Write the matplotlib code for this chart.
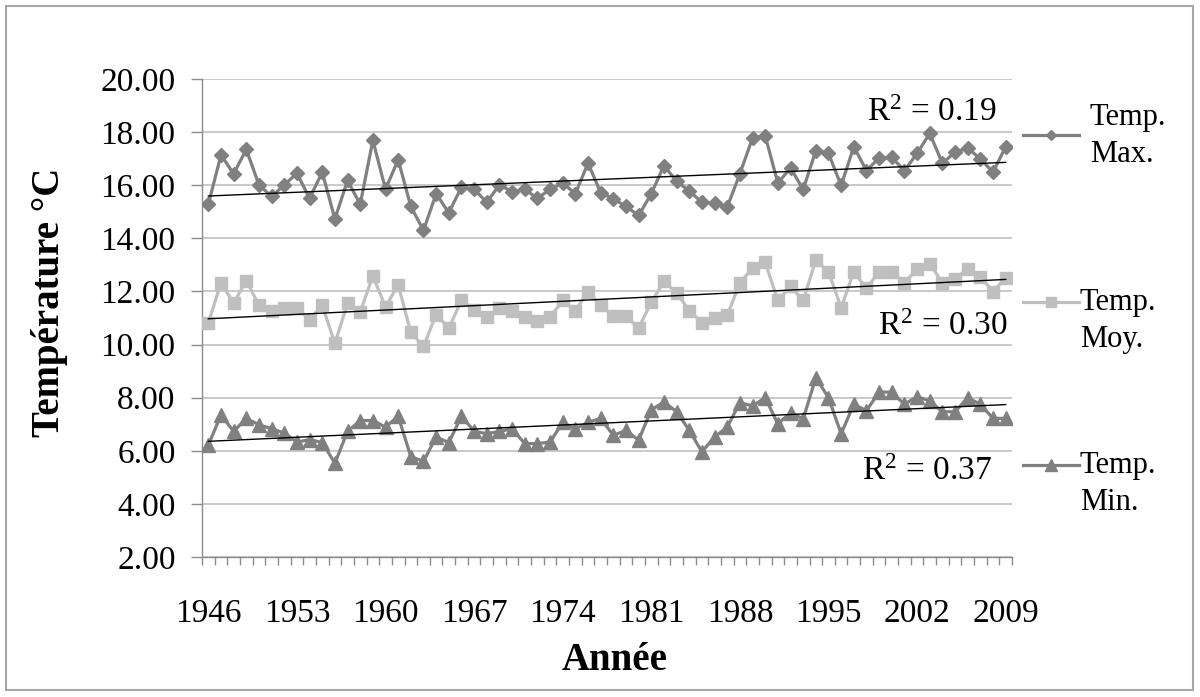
import numpy as np
import matplotlib
matplotlib.use("Agg")
import matplotlib.pyplot as plt
from matplotlib.lines import Line2D
from matplotlib.patches import Rectangle
from matplotlib.ticker import FixedLocator, FormatStrFormatter

years = list(range(1946, 2010))

temp_max = [15.28, 17.14, 16.43, 17.35, 16.01, 15.58, 16.01, 16.45, 15.51, 16.49,
            14.73, 16.18, 15.28, 17.69, 15.85, 16.96, 15.20, 14.30, 15.68, 14.96,
            15.93, 15.84, 15.36, 16.01, 15.76, 15.84, 15.51, 15.84, 16.08, 15.68,
            16.83, 15.72, 15.49, 15.20, 14.86, 15.68, 16.74, 16.15, 15.78, 15.36,
            15.33, 15.18, 16.43, 17.78, 17.86, 16.08, 16.65, 15.84, 17.30, 17.20,
            15.99, 17.45, 16.55, 17.03, 17.05, 16.55, 17.20, 17.95, 16.83, 17.24,
            17.40, 16.99, 16.49, 17.45]

temp_moy = [10.82, 12.32, 11.56, 12.41, 11.48, 11.26, 11.39, 11.39, 10.93, 11.48,
            10.04, 11.56, 11.23, 12.58, 11.42, 12.25, 10.46, 9.93, 11.13, 10.62,
            11.66, 11.32, 11.03, 11.39, 11.28, 11.03, 10.90, 11.03, 11.66, 11.28,
            11.99, 11.48, 11.06, 11.06, 10.62, 11.59, 12.38, 11.95, 11.28, 10.83,
            10.99, 11.10, 12.32, 12.89, 13.09, 11.66, 12.19, 11.66, 13.18, 12.74,
            11.39, 12.74, 12.12, 12.74, 12.74, 12.32, 12.85, 13.05, 12.32, 12.48,
            12.85, 12.56, 11.99, 12.52]

temp_min = [6.21, 7.35, 6.73, 7.22, 6.98, 6.83, 6.67, 6.33, 6.42, 6.31,
            5.53, 6.73, 7.14, 7.14, 6.89, 7.30, 5.78, 5.60, 6.52, 6.31,
            7.30, 6.74, 6.64, 6.73, 6.83, 6.27, 6.27, 6.33, 7.07, 6.83,
            7.07, 7.22, 6.58, 6.77, 6.40, 7.54, 7.84, 7.47, 6.77, 5.96,
            6.52, 6.89, 7.81, 7.69, 8.00, 7.01, 7.44, 7.20, 8.75, 8.00,
            6.64, 7.75, 7.51, 8.21, 8.21, 7.75, 8.04, 7.88, 7.47, 7.47,
            8.00, 7.75, 7.22, 7.22]

series_names = ["Temp.\nMax.", "Temp.\nMoy.", "Temp.\nMin."]
r2_labels = [r"R$^{\mathrm{2}}$ = 0.19", r"R$^{\mathrm{2}}$ = 0.30", r"R$^{\mathrm{2}}$ = 0.37"]
y_ticks = [2, 4, 6, 8, 10, 12, 14, 16, 18, 20]
x_tick_years = [1946, 1953, 1960, 1967, 1974, 1981, 1988, 1995, 2002, 2009]

SERIF = "Liberation Serif"
plt.rcParams["font.family"] = [SERIF, "DejaVu Serif"]
plt.rcParams["mathtext.fontset"] = "custom"
plt.rcParams["mathtext.rm"] = SERIF
plt.rcParams["mathtext.it"] = SERIF + ":italic"
plt.rcParams["mathtext.bf"] = SERIF + ":bold"

W, H = 1200, 697
fig = plt.figure(figsize=(W / 100, H / 100), dpi=100)
fig.patch.set_facecolor("white")

# outer chart border
fig.add_artist(Rectangle((6 / W, 1 - 690 / H), (1193 - 6) / W, (690 - 6) / H,
                         transform=fig.transFigure, fill=False,
                         edgecolor="#a6a6a6", linewidth=1.5))

left, right, top, bottom = 202, 1012, 79, 557
ax = fig.add_axes([left / W, 1 - bottom / H, (right - left) / W, (bottom - top) / H])

x = np.arange(len(years))
styles = [
    dict(color="#808080", marker="D", ms=7.0),
    dict(color="#bfbfbf", marker="s", ms=9.0),
    dict(color="#808080", marker="^", ms=10.0),
]
data = [temp_max, temp_moy, temp_min]
for vals, st in zip(data, styles):
    ax.plot(x, vals, color=st["color"], lw=2.3, marker=st["marker"],
            ms=st["ms"], mfc=st["color"], mec=st["color"], zorder=3)
    coef = np.polyfit(x, vals, 1)
    ax.plot([x[0], x[-1]], np.polyval(coef, [x[0], x[-1]]), color="black",
            lw=1.0, zorder=4)

ax.set_xlim(-0.5, len(years) - 0.5)
ax.set_ylim(2, 20)
ax.yaxis.set_major_locator(FixedLocator(y_ticks))
ax.yaxis.set_major_formatter(FormatStrFormatter("%.2f"))
ax.grid(axis="y", color="#c0c0c0", lw=1.2, zorder=0)

tick_pos = [years.index(y) for y in x_tick_years]
ax.set_xticks(tick_pos)
ax.set_xticklabels([str(y) for y in x_tick_years])
ax.set_xticks(np.arange(-0.5, len(years)), minor=True)
ax.tick_params(axis="x", which="major", length=0, pad=30, labelsize=24)
ax.tick_params(axis="x", which="minor", length=6, color="#8c8c8c", width=1.0)
ax.tick_params(axis="y", which="major", length=8, color="#8c8c8c", width=1.0,
               pad=11, labelsize=24)

for s in ["top", "right"]:
    ax.spines[s].set_visible(False)
for s in ["left", "bottom"]:
    ax.spines[s].set_color("#8c8c8c")
    ax.spines[s].set_linewidth(1.0)

# axis titles
fig.text(50 / W, 1 - 302 / H, "Température °C", rotation=90, ha="center",
         va="center", fontsize=28, fontweight="bold")
fig.text(615 / W, 1 - 660 / H, "Année", ha="center", va="center",
         fontsize=28, fontweight="bold")

# R² labels
r2_pos = [(997, 113), (1008, 327), (992, 472)]
for lab, (px, py) in zip(r2_labels, r2_pos):
    fig.text(px / W, 1 - py / H, lab, ha="right", va="center", fontsize=24)

# legend (drawn manually to match layout)
leg_handles = [(1023, 1079, 135), (1023, 1079, 302), (1023, 1079, 465)]
text_pos = [(1090, 136), (1080, 321), (1080, 484)]
for (x0, x1, yy), st, name, (tx, ty) in zip(leg_handles, styles, series_names, text_pos):
    fig.add_artist(Line2D([x0 / W, x1 / W], [1 - yy / H, 1 - yy / H],
                          transform=fig.transFigure, color=st["color"], lw=2.3))
    fig.add_artist(Line2D([(x0 + x1) / 2 / W], [1 - yy / H],
                          transform=fig.transFigure, color=st["color"],
                          marker=st["marker"], ms=st["ms"] * 0.8, lw=0))
    fig.text(tx / W, 1 - ty / H, name, ha="left", va="center", fontsize=22,
             linespacing=1.35)

fig.savefig("out.png", dpi=100)
